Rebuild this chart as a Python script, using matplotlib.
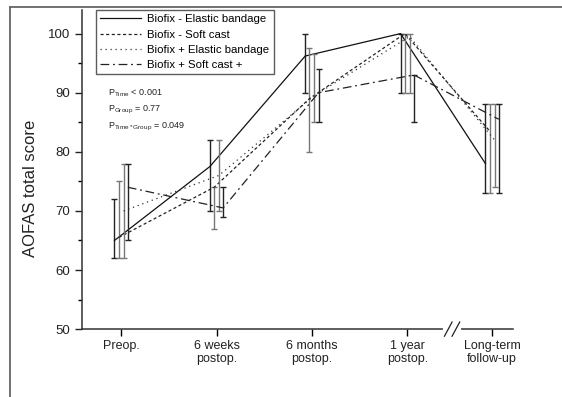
import matplotlib.pyplot as plt
from matplotlib.lines import Line2D
from matplotlib.ticker import MultipleLocator
import numpy as np

plt.rcParams['font.family'] = ['Liberation Sans', 'DejaVu Sans']
plt.rcParams['mathtext.fontset'] = 'custom'
plt.rcParams['mathtext.rm'] = 'Liberation Sans'

# data
time_labels = ['Preop.', '6 weeks\npostop.', '6 months\npostop.', '1 year\npostop.', 'Long-term\nfollow-up']
time_pos = [0, 1, 2, 3, 3.89]

series_names = ['Biofix - Elastic bandage', 'Biofix - Soft cast',
                'Biofix + Elastic bandage', 'Biofix + Soft cast +']
elastic_mean = [65, 77.5, 96.2, 100, 78]
elastic_low = [62, 70, 90, 90, 73]
elastic_high = [72, 82, 100, 100, 88]
soft_mean = [65.5, 74, 89, 100, 83.5]
soft_low = [62, 67, 80, 90, 73]
soft_high = [75, 74, 97.5, 100, 88]
elastic_p_mean = [70, 76, 89.5, 99.5, 82]
elastic_p_low = [62, 70, 85, 90, 74]
elastic_p_high = [78, 82, 96.5, 100, 88]
soft_p_mean = [74, 70.5, 90, 93, 85.5]
soft_p_low = [65, 69, 85, 85, 73]
soft_p_high = [78, 74, 94, 93, 88]

means = [elastic_mean, soft_mean, elastic_p_mean, soft_p_mean]
lows = [elastic_low, soft_low, elastic_p_low, soft_p_low]
highs = [elastic_high, soft_high, elastic_p_high, soft_p_high]

styles = ['-', (0, (2.5, 2)), (0, (1, 3)), (0, (7, 3, 1.5, 3))]
line_colors = ['#111111', '#222222', '#333333', '#222222']
err_colors = ['#222222', '#777777', '#777777', '#222222']
offsets = [-0.07, -0.025, 0.025, 0.07]

fig = plt.figure(figsize=(5.62, 3.97), dpi=100)
ax = fig.add_axes([0.146, 0.171, 0.767, 0.804])

for i in range(4):
    x = np.array(time_pos) + offsets[i]
    m = np.array(means[i])
    lo = m - np.array(lows[i])
    hi = np.array(highs[i]) - m
    ax.errorbar(x, m, yerr=[lo, hi], fmt='none', ecolor=err_colors[i],
                elinewidth=1.0, capsize=2.5, capthick=1.0)
    ax.plot(x, m, linestyle=styles[i], color=line_colors[i], lw=0.9,
            label=series_names[i])

ax.set_xlim(-0.41, 4.11)
ax.set_ylim(50, 104)
ax.set_xticks(time_pos)
ax.set_xticklabels(time_labels, fontsize=9, color='#222222', linespacing=1.1)
ax.set_yticks([50, 60, 70, 80, 90, 100])
ax.yaxis.set_minor_locator(MultipleLocator(5))
ax.tick_params(axis='y', labelsize=9.5, length=5, width=1, colors='#222222')
ax.tick_params(axis='y', which='minor', length=3, width=1)
ax.tick_params(axis='x', length=5, width=1, pad=3)
ax.set_ylabel('AOFAS total score', fontsize=12, color='#222222')
ax.yaxis.set_label_coords(-0.103, 0.44)
for s in ['top', 'right']:
    ax.spines[s].set_visible(False)
for s in ['left', 'bottom']:
    ax.spines[s].set_linewidth(1.1)
    ax.spines[s].set_color('#333333')

# axis break marks
bx = 3.43
ax.plot([bx - 0.03, bx + 0.11], [50, 50], color='white', lw=3, clip_on=False, zorder=5)
for dx in [0, 0.08]:
    ax.plot([bx - 0.04 + dx, bx + 0.04 + dx], [48.8, 51.2], color='#222222', lw=0.9,
            clip_on=False, zorder=6)

leg = ax.legend(loc='upper left', bbox_to_anchor=(0.032, 1.0), fontsize=8.2,
                frameon=True, fancybox=False, handlelength=3.6, borderpad=0.4,
                labelspacing=0.45, handletextpad=0.5, borderaxespad=0)
leg.get_frame().set_edgecolor('#333333')
leg.get_frame().set_linewidth(1.0)

ax.text(0.06, 0.74, r'P$_{\mathregular{Time}}$ < 0.001', transform=ax.transAxes,
        fontsize=6.5, color='#222222', va='center')
ax.text(0.06, 0.686, r'P$_{\mathregular{Group}}$ = 0.77', transform=ax.transAxes,
        fontsize=6.5, color='#222222', va='center')
ax.text(0.06, 0.634, r'P$_{\mathregular{Time*Group}}$ = 0.049', transform=ax.transAxes,
        fontsize=6.5, color='#222222', va='center')

# outer frame lines
fig.add_artist(Line2D([10 / 562, 1.0], [1 - 7 / 397, 1 - 7 / 397], color='#666666', lw=1.3))
fig.add_artist(Line2D([10 / 562, 10 / 562], [0, 1 - 7 / 397], color='#666666', lw=1.3))

fig.savefig('out.png', dpi=100)
